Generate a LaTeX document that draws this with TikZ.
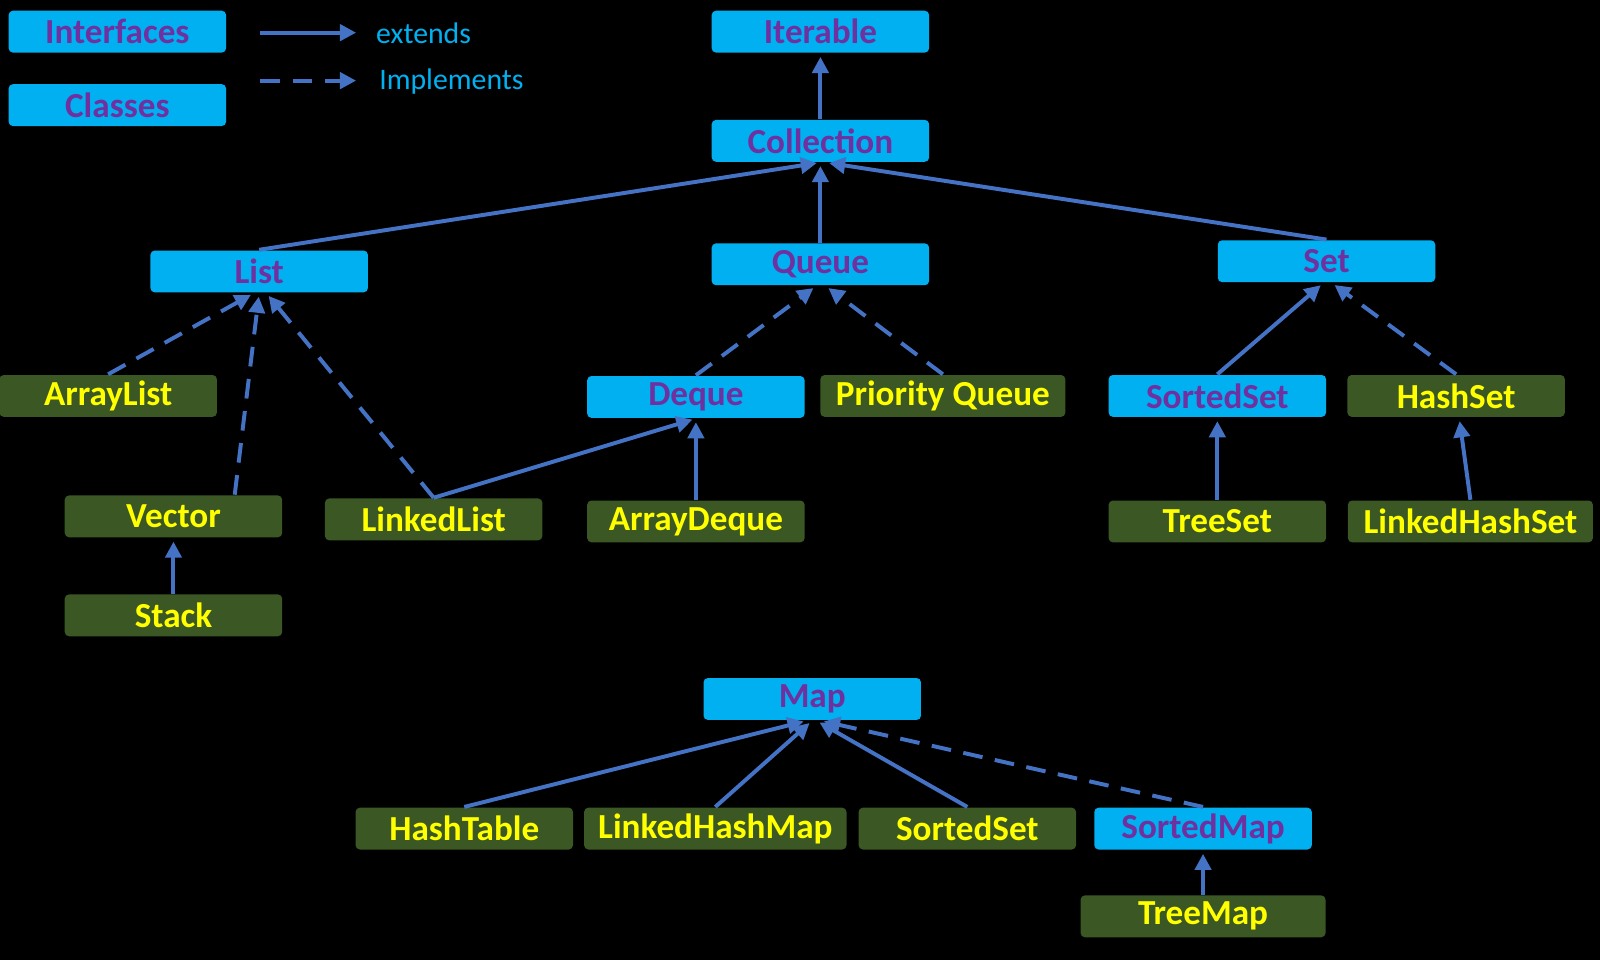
\documentclass[tikz,border=0pt]{standalone}
\usepackage{fontspec}
\setmainfont{Carlito}
\usepackage{tikz}
\usetikzlibrary{arrows.meta,positioning}
\definecolor{ifblue}{HTML}{00B0F0}
\definecolor{ifpurple}{HTML}{7030A0}
\definecolor{clgreen}{HTML}{3A5724}
\definecolor{clyellow}{HTML}{FFFF00}
\definecolor{arrcolor}{HTML}{4472C4}

\begin{document}
\begin{tikzpicture}[
  x=0.01cm, y=-0.01cm,
  box/.style={rounded corners=1.2pt, minimum width=2.13cm, minimum height=0.41cm,
              inner sep=0pt, font=\fontsize{9.8}{11}\selectfont\bfseries},
  iface/.style={box, fill=ifblue, text=ifpurple},
  cls/.style={box, fill=clgreen, text=clyellow},
  ext/.style={-{Triangle[length=4.5pt, width=4.5pt]}, line width=1.1pt, arrcolor, shorten >=1pt},
  impl/.style={ext, dash pattern=on 5.5pt off 3.5pt},
  lgd/.style={font=\fontsize{8.3}{10}\selectfont, text=ifblue, anchor=west, inner sep=0pt},
]
  \fill[black] (0,0) rectangle (1568,941);
  \useasboundingbox (0,0) rectangle (1568,941);

  % Legend
  \node[iface] (lgif) at (115,31) {Interfaces};
  \node[iface] (lgcl) at (115,103) {Classes};
  \coordinate (e1) at (255,32);
  \coordinate (e2) at (349,32);
  \coordinate (i1) at (255,79);
  \coordinate (i2) at (349,79);
  \draw[ext, shorten >=0pt] (e1) -- (e2);
  \draw[impl, shorten >=0pt] (i1) -- (i2);
  \node[lgd] (lgext) at (368,33) {extends};
  \node[lgd] (lgimp) at (371,80) {Implements};

  % Collection hierarchy
  \node[iface] (iter) at (804,31) {Iterable};
  \node[iface] (coll) at (804,138) {Collection};
  \node[iface] (list) at (254,266) {List};
  \node[iface] (queue) at (804,259) {Queue};
  \node[iface] (set) at (1300,256) {Set};

  \node[cls] (alist) at (106,388) {ArrayList};
  \node[cls] (vec) at (170,506) {Vector};
  \node[cls] (stack) at (170,603) {Stack};
  \node[cls] (llist) at (425,509) {LinkedList};
  \node[iface] (deque) at (682,389) {Deque};
  \node[cls, minimum width=2.4cm] (pq) at (924,388) {Priority Queue};
  \node[cls] (adeque) at (682,511) {ArrayDeque};
  \node[iface] (sset) at (1193,388) {SortedSet};
  \node[cls] (hset) at (1427,388) {HashSet};
  \node[cls] (tset) at (1193,511) {TreeSet};
  \node[cls, minimum width=2.4cm] (lhset) at (1441,511) {LinkedHashSet};

  \draw[ext] (coll.north) -- (iter.south);
  \draw[ext] (list.north) -- (coll.south);
  \draw[ext] (queue.north) -- (coll.south);
  \draw[ext] (set.north) -- ([xshift=0.05cm]coll.south);

  \draw[impl] (alist.north) -- ([xshift=-0.05cm]list.south);
  \draw[impl] ([xshift=0.6cm]vec.north) -- (list.south);
  \draw[impl] (llist.north) -- ([xshift=0.07cm]list.south);
  \draw[ext] (stack.north) -- (vec.south);
  \draw[ext] (llist.north) -- (deque.south);
  \draw[ext] (adeque.north) -- (deque.south);
  \draw[impl] (deque.north) -- ([xshift=-0.04cm]queue.south);
  \draw[impl] (pq.north) -- ([xshift=0.05cm]queue.south);
  \draw[ext] (sset.north) -- ([xshift=-0.03cm]set.south);
  \draw[impl] (hset.north) -- ([xshift=0.05cm]set.south);
  \draw[ext] (tset.north) -- (sset.south);
  \draw[ext] (lhset.north) -- ([xshift=0.03cm]hset.south);

  % Map hierarchy
  \node[iface] (map) at (796,685) {Map};
  \node[cls] (htable) at (455,812) {HashTable};
  \node[cls, minimum width=2.57cm] (lhmap) at (701,812) {LinkedHashMap};
  \node[cls] (ssetm) at (948,812) {SortedSet};
  \node[iface] (smap) at (1179,812) {SortedMap};
  \node[cls, minimum width=2.4cm] (tmap) at (1179,898) {TreeMap};

  \draw[ext] (htable.north) -- ([xshift=-0.05cm]map.south);
  \draw[ext] (lhmap.north) -- (map.south);
  \draw[ext] (ssetm.north) -- ([xshift=0.04cm]map.south);
  \draw[impl] (smap.north) -- ([xshift=0.08cm]map.south);
  \draw[ext] (tmap.north) -- (smap.south);
\end{tikzpicture}
\end{document}
